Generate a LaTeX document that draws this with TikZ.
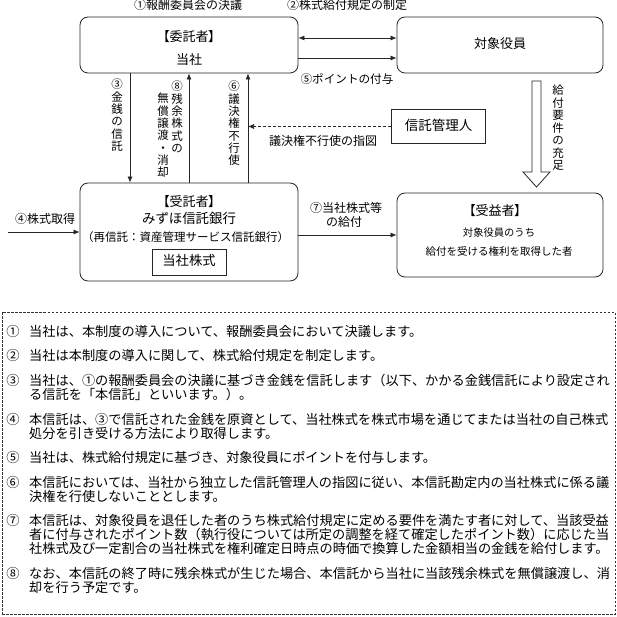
\documentclass[tikz,border=0pt]{standalone}
\usepackage{fontspec}
\setmainfont{Noto Sans CJK JP}
\newfontfamily\jpp[RawFeature=+palt]{Noto Sans CJK JP}
\usetikzlibrary{arrows.meta}
\newcommand\fsz[1]{\fontsize{#1}{#1}\selectfont}
\begin{document}
\begin{tikzpicture}[x=1pt,y=-1pt,
  every node/.style={inner sep=0pt, text=black},
  lbl/.style={text height=.88em, text depth=.12em},
  box/.style={draw=black!85, line width=0.8pt, rounded corners=8pt},
  sbox/.style={draw=black!85, line width=0.8pt},
  arr/.style={draw=black!85, line width=0.7pt, -{Latex[length=6pt,width=5pt]}},
  darr/.style={draw=black!85, line width=0.7pt, {Latex[length=6pt,width=5pt]}-{Latex[length=6pt,width=5pt]}},
  dasharr/.style={arr, dash pattern=on 3pt off 2pt},
  vcol/.style={align=center, anchor=north, font=\fontsize{11.5}{12.3}\selectfont},
  item/.style={lbl, anchor=west, font=\fsz{13.2}},
  num/.style={lbl, font=\fsz{13.2}},
]
\useasboundingbox (0,0) rectangle (617,617);

% boxes
\node[box, minimum width=218pt, minimum height=56pt] (itaku) at (189,45) {};
\node[box, minimum width=206pt, minimum height=56pt] (taisho) at (500,45) {};
\node[box, minimum width=218pt, minimum height=98pt] (jutaku) at (189,232) {};
\node[box, minimum width=206pt, minimum height=84pt] (jueki) at (500,235) {};
\node[sbox, minimum width=94pt, minimum height=34pt] (kanri) at (438.5,126.5) {};
\node[sbox, minimum width=74pt, minimum height=26pt] (kabu) at (189,262) {};

% box texts
\node[lbl, font=\jpp\fsz{13}] (itakuT) at (189,38) {【委託者】};
\node[lbl, font=\fsz{13}] (itakuS) at (189,61) {当社};
\node[lbl, font=\fsz{13}] (taishoT) at (500,45) {対象役員};
\node[lbl, font=\fsz{13.5}] (kanriT) at (kanri) {信託管理人};
\node[lbl, font=\jpp\fsz{13}] (jutakuT) at (189,203) {【受託者】};
\node[lbl, font=\fsz{13.4}] (jutakuS) at (189,220) {みずほ信託銀行};
\node[lbl, font=\fsz{11.5}] (jutakuR) at (185.5,238) {（再信託：資産管理サービス信託銀行）};
\node[lbl, font=\fsz{13.3}] (kabuT) at (kabu) {当社株式};
\node[lbl, font=\jpp\fsz{13}] (juekiT) at (495,212) {【受益者】};
\node[lbl, font=\fsz{10.3}] (juekiA) at (499,233) {対象役員のうち};
\node[lbl, font=\fsz{10.5}] (juekiB) at (499,252) {給付を受ける権利を取得した者};

% labels
\node[lbl, font=\fsz{12}] (l1) at (188,6) {①報酬委員会の決議};
\node[lbl, font=\fsz{12}] (l2) at (347,6) {②株式給付規定の制定};
\node[lbl, font=\fsz{11.6}] (l5) at (347,80) {⑤ポイントの付与};
\node[lbl, font=\fsz{12}] (lsz) at (323,142) {議決権不行使の指図};
\node[lbl, font=\fsz{12}] (l4) at (45,220) {④株式取得};
\node[lbl, font=\fsz{12}] (l7a) at (346,209) {⑦当社株式等};
\node[lbl, font=\fsz{12}] (l7b) at (344,223) {の給付};

% vertical labels
\node[vcol] (v3) at (117,79) {③\\金\\銭\\の\\信\\託};
\node[vcol] (v8a) at (177,81) {⑧\\残\\余\\株\\式\\の};
\node[vcol] (v8b) at (163,93) {無\\償\\譲\\渡\\・\\消\\却};
\node[vcol] (v6) at (234,81) {⑥\\議\\決\\権\\不\\行\\使};
\node[vcol, font=\fontsize{11.5}{12.5}\selectfont] (vk) at (558,85) {給\\付\\要\\件\\の\\充\\足};

% connectors
\draw[darr] (itaku.east |- 0,38) -- (taisho.west |- 0,38);
\draw[arr] (itaku.east |- 0,58) -- (taisho.west |- 0,58);
\draw[arr] (itaku.south -| 130,0) -- (jutaku.north -| 130,0);
\draw[arr] (jutaku.north -| 189,0) -- (itaku.south -| 189,0);
\draw[arr] (jutaku.north -| 248,0) -- (itaku.south -| 248,0);
\coordinate (d6) at (248,126.5);
\draw[dasharr] (kanri.west) -- (d6);
\coordinate (s4) at (8,232);
\draw[arr] (s4) -- (jutaku.west |- s4);
\draw[arr] (jutaku.east |- 0,235) -- (jueki.west |- 0,235);

% hollow arrow
\draw[draw=black!85, line width=0.8pt, fill=white]
  (532,81) -- (541,81) -- (541,172) -- (550,172) -- (536.5,187) -- (523,172) -- (532,172) -- cycle;

% notes box
\node[draw=black!80, dash pattern=on 2.5pt off 1.5pt, line width=0.6pt,
  minimum width=613pt, minimum height=302pt] (note) at (308.5,463) {};

\node[num] (n1) at (13,332.5) {①};
\node[item] (t1) at (29,332.5) {当社は、本制度の導入について、報酬委員会において決議します。};
\node[num] (n2) at (13,357.1) {②};
\node[item] (t2) at (29,357.1) {当社は本制度の導入に関して、株式給付規定を制定します。};
\node[num] (n3) at (13,381.7) {③};
\node[item] (t3a) at (29,381.7) {当社は、①の報酬委員会の決議に基づき金銭を信託します（以下、かかる金銭信託により設定され};
\node[item] (t3b) at (29,395.7) {る信託を「本信託」といいます。）。};
\node[num] (n4) at (13,420.3) {④};
\node[item] (t4a) at (29,420.3) {本信託は、③で信託された金銭を原資として、当社株式を株式市場を通じてまたは当社の自己株式};
\node[item] (t4b) at (29,434.3) {処分を引き受ける方法により取得します。};
\node[num] (n5) at (13,458.9) {⑤};
\node[item] (t5) at (29,458.9) {当社は、株式給付規定に基づき、対象役員にポイントを付与します。};
\node[num] (n6) at (13,483.5) {⑥};
\node[item] (t6a) at (29,483.5) {本信託においては、当社から独立した信託管理人の指図に従い、本信託勘定内の当社株式に係る議};
\node[item] (t6b) at (29,497.5) {決権を行使しないこととします。};
\node[num] (n7) at (13,522.1) {⑦};
\node[item] (t7a) at (29,522.1) {本信託は、対象役員を退任した者のうち株式給付規定に定める要件を満たす者に対して、当該受益};
\node[item] (t7b) at (29,536.1) {者に付与されたポイント数（執行役については所定の調整を経て確定したポイント数）に応じた当};
\node[item] (t7c) at (29,550.1) {社株式及び一定割合の当社株式を権利確定日時点の時価で換算した金額相当の金銭を給付します。};
\node[num] (n8) at (13,574.7) {⑧};
\node[item] (t8a) at (29,574.7) {なお、本信託の終了時に残余株式が生じた場合、本信託から当社に当該残余株式を無償譲渡し、消};
\node[item] (t8b) at (29,588.7) {却を行う予定です。};
\end{tikzpicture}
\end{document}
